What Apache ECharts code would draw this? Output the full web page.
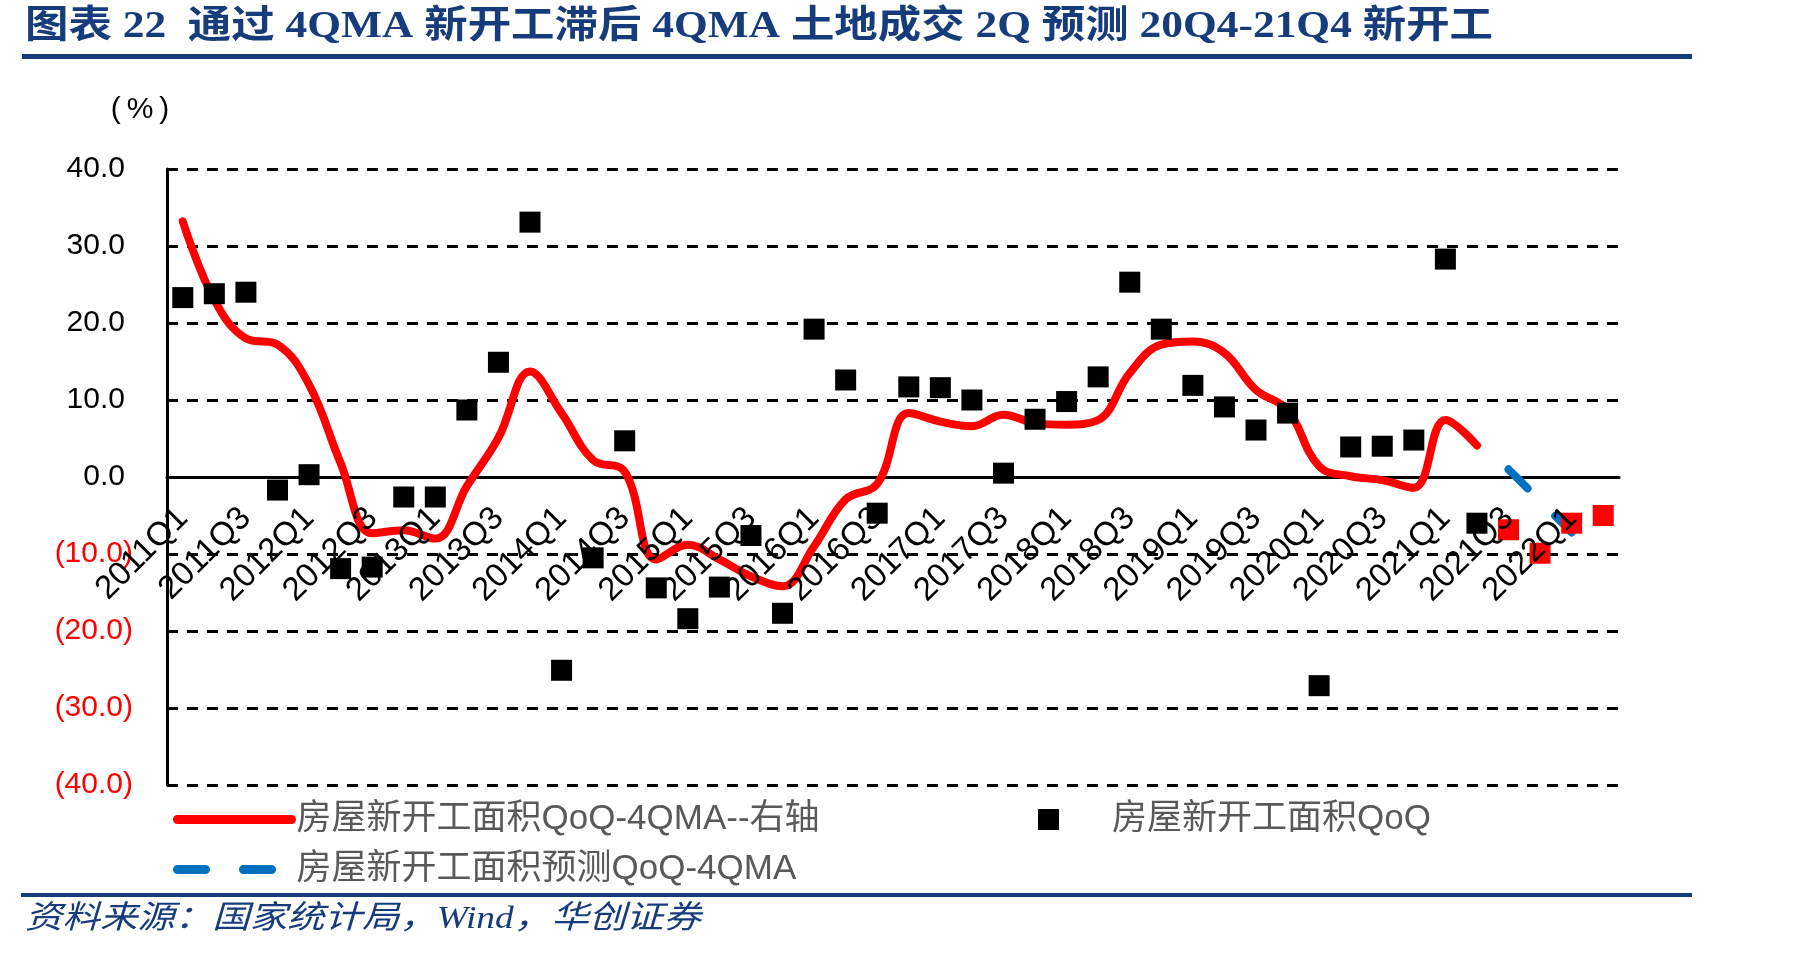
<!DOCTYPE html>
<html lang="zh">
<head>
    <meta charset="UTF-8">
    <title>新开工预测</title>
    <script src="https://cdn.jsdelivr.net/npm/echarts@6/dist/echarts.min.js"></script>
    <style>
        html, body { margin: 0; padding: 0; background: #fff; }
        #chart { width: 1801px; height: 956px; }
    </style>
</head>
<body>
<div id="chart"></div>
<script>
    // 季度（横轴）
    const quarters = [
        '2011Q1', '2011Q2', '2011Q3', '2011Q4', '2012Q1', '2012Q2', '2012Q3', '2012Q4',
        '2013Q1', '2013Q2', '2013Q3', '2013Q4', '2014Q1', '2014Q2', '2014Q3', '2014Q4',
        '2015Q1', '2015Q2', '2015Q3', '2015Q4', '2016Q1', '2016Q2', '2016Q3', '2016Q4',
        '2017Q1', '2017Q2', '2017Q3', '2017Q4', '2018Q1', '2018Q2', '2018Q3', '2018Q4',
        '2019Q1', '2019Q2', '2019Q3', '2019Q4', '2020Q1', '2020Q2', '2020Q3', '2020Q4',
        '2021Q1', '2021Q2', '2021Q3', '2021Q4', '2022Q1', '2022Q2'
    ];
    // 房屋新开工面积QoQ-4QMA（红线）
    const qoq4qma = [
        33.2, 23.0, 18.0, 17.2, 12.0, 1.8, -7.3, -6.9, -8.0, -1.2,
        5.1, 13.7, 8.3, 2.2, 0.7, -10.7, -8.8, -10.7, -12.9, -14.2,
        -9.0, -2.9, -0.9, 8.3, 7.2, 6.6, 8.1, 7.0, 6.8, 7.4,
        13.5, 17.2, 17.6, 16.1, 11.3, 8.7, 1.4, 0.1, -0.4, -1.4,
        7.4, 4.1, null, null, null, null
    ];
    // 房屋新开工面积QoQ（黑色方块）
    const qoq = [
        23.3, 23.8, 24.0, -1.7, 0.3, -11.9, -11.7, -2.6, -2.6, 8.7,
        14.9, 33.1, -25.1, -10.5, 4.7, -14.4, -18.4, -14.3, -7.6, -17.7,
        19.2, 12.6, -4.7, 11.7, 11.6, 10.0, 0.5, 7.5, 9.8, 13.0,
        25.3, 19.2, 11.9, 9.1, 6.1, 8.3, -27.1, 3.9, 4.0, 4.8,
        28.3, -6.0, null, null, null, null
    ];
    // 预测QoQ（红色方块）
    const qoqForecast = [
        null, null, null, null, null, null, null, null, null, null,
        null, null, null, null, null, null, null, null, null, null,
        null, null, null, null, null, null, null, null, null, null,
        null, null, null, null, null, null, null, null, null, null,
        null, null, -6.85, -9.9, -6.0, -5.0
    ];
    // 房屋新开工面积预测QoQ-4QMA（蓝色虚线）
    const qma4Forecast = [
        null, null, null, null, null, null, null, null, null, null,
        null, null, null, null, null, null, null, null, null, null,
        null, null, null, null, null, null, null, null, null, null,
        null, null, null, null, null, null, null, null, null, null,
        null, null, 1.0, -3.1, -7.2, null
    ];
    const yTicks = [-40, -30, -20, -10, 0, 10, 20, 30, 40];

    const names = ['房屋新开工面积QoQ-4QMA--右轴', '房屋新开工面积QoQ', '房屋新开工面积预测QoQ-4QMA'];
    const titleText = '图表 22  通过 4QMA 新开工滞后 4QMA 土地成交 2Q 预测 20Q4-21Q4 新开工';
    const sourceText = '资料来源：国家统计局，Wind，华创证券';

    const latin = '"Liberation Sans", Arial, "Noto Sans CJK SC"';
    const navy = '#173C7C';

    // 绘图区
    const gridBox = {left: 167, top: 169, width: 1452, height: 616};
    // 标签轴从底边上移到0线
    const zeroOffset = -gridBox.height * (0 - yTicks[0]) / (yTicks[yTicks.length - 1] - yTicks[0]);

    // 按目标宽度计算横向缩放
    function fitScale(text, font, target) {
        let ctx = document.createElement('canvas').getContext('2d');
        ctx.font = font;
        return target / ctx.measureText(text).width;
    }
    const titleFont = 'bold 38px "Liberation Serif", "Noto Sans CJK SC"';
    const sourceFont = 'italic 32px "Liberation Serif", "Noto Sans CJK SC"';

    let myChart = echarts.init(document.getElementById('chart'));

    let legendBase = {
        orient: 'horizontal',
        padding: 0,
        itemWidth: 114,
        itemHeight: 16,
        textStyle: {color: '#595959', fontSize: 35, fontFamily: latin}
    };

    let option = {
        backgroundColor: '#fff',
        animation: false,
        grid: Object.assign({outerBoundsMode: 'none'}, gridBox),
        legend: [
            Object.assign({}, legendBase, {
                left: 173, top: 802, data: [names[0]],
                itemStyle: {opacity: 0},
                lineStyle: {width: 9, cap: 'round'}
            }),
            Object.assign({}, legendBase, {
                left: 1038, top: 802, itemWidth: 21, itemHeight: 21,
                data: [{name: names[1], icon: 'rect'}],
                itemStyle: {opacity: 1},
                textStyle: {color: '#595959', fontSize: 35, fontFamily: latin, padding: [0, 0, 0, 48]}
            }),
            Object.assign({}, legendBase, {
                left: 173, top: 852, data: [names[2]],
                itemStyle: {opacity: 0},
                lineStyle: {width: 9, type: [28, 38], cap: 'round'}
            })
        ],
        xAxis: [
            {
                type: 'category',
                data: quarters,
                axisLine: {onZero: true, lineStyle: {color: '#000', width: 3}},
                axisTick: {show: false},
                axisLabel: {show: false},
                splitLine: {show: false}
            },
            {
                // 只用来画标签，压在图形上方
                type: 'category',
                data: quarters,
                position: 'bottom',
                offset: zeroOffset,
                z: 6,
                axisLine: {show: false, onZero: false},
                axisTick: {show: false},
                splitLine: {show: false},
                axisLabel: {
                    interval: 1,
                    rotate: 45,
                    margin: 36,
                    color: '#000',
                    fontSize: 33,
                    fontFamily: latin
                }
            }
        ],
        yAxis: {
            type: 'value',
            min: yTicks[0],
            max: yTicks[yTicks.length - 1],
            interval: 10,
            axisLine: {show: true, lineStyle: {color: '#000', width: 3}},
            axisTick: {show: false},
            splitLine: {lineStyle: {color: '#000', width: 3, type: [11, 9]}},
            axisLabel: {
                margin: 34,
                formatter: function (v) {
                    if (v < 0) return '{n|(' + Math.abs(v).toFixed(1) + ')}';
                    return '{p|' + v.toFixed(1) + '}';
                },
                rich: {
                    p: {color: '#000', fontSize: 30, fontFamily: latin, padding: [0, 8, 0, 0]},
                    n: {color: '#f00', fontSize: 30, fontFamily: latin}
                }
            }
        },
        series: [
            {
                name: names[0],
                type: 'line',
                data: qoq4qma,
                smooth: 0.4,
                symbol: 'none',
                z: 3,
                itemStyle: {color: '#f00'},
                lineStyle: {color: '#f00', width: 8, cap: 'round', join: 'round'}
            },
            {
                name: names[1],
                type: 'scatter',
                data: qoq,
                symbol: 'rect',
                symbolSize: 21,
                z: 4,
                itemStyle: {color: '#000', opacity: 1}
            },
            {
                name: names[2],
                type: 'line',
                data: qma4Forecast,
                symbol: 'none',
                z: 3,
                itemStyle: {color: '#0070C0'},
                lineStyle: {color: '#0070C0', width: 8, type: [27, 39], cap: 'round'}
            },
            {
                name: '预测QoQ',
                type: 'scatter',
                data: qoqForecast,
                symbol: 'rect',
                symbolSize: 21,
                z: 4,
                itemStyle: {color: '#f00', opacity: 1}
            }
        ],
        graphic: [
            {
                type: 'text', left: 25, top: 8, z: 10,
                scaleX: fitScale(titleText, titleFont, 1468), originX: 0,
                style: {text: titleText, font: titleFont, fill: navy}
            },
            {type: 'rect', shape: {x: 22, y: 54, width: 1670, height: 5}, style: {fill: navy}},
            {
                type: 'text', x: 140, y: 110,
                style: {text: '(\u2009%\u2009)', font: '30px ' + latin, fill: '#000', align: 'center', verticalAlign: 'middle'}
            },
            {type: 'rect', shape: {x: 21, y: 893, width: 1671, height: 4}, style: {fill: navy}},
            {
                type: 'text', left: 25, top: 904, z: 10,
                scaleX: fitScale(sourceText, sourceFont, 676), originX: 0,
                style: {text: sourceText, font: sourceFont, fill: navy}
            }
        ]
    };

    myChart.setOption(option);
</script>
</body>
</html>
